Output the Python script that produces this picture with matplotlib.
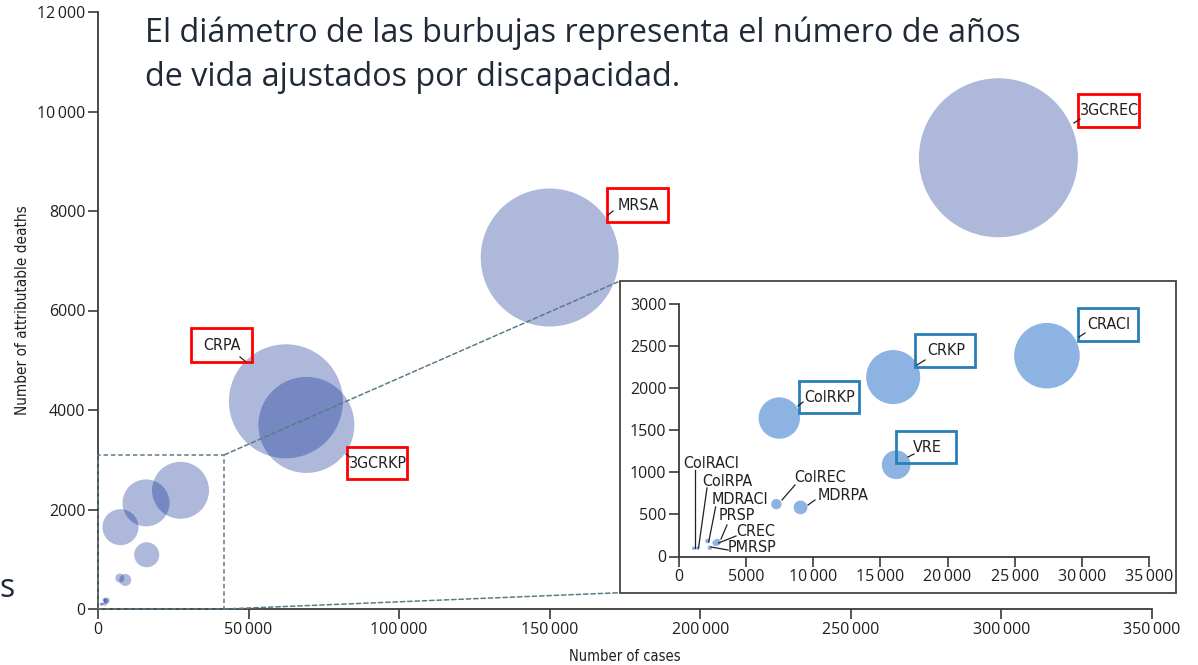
import numpy as np
import matplotlib
matplotlib.use("Agg")
import matplotlib.pyplot as plt
from matplotlib.patches import Rectangle, ConnectionPatch
from matplotlib.lines import Line2D
from matplotlib.ticker import FuncFormatter

# data
names = ["3GCREC", "MRSA", "CRPA", "3GCRKP", "CRACI", "CRKP", "VRE", "ColRKP",
         "MDRPA", "ColREC", "CREC", "PRSP", "MDRACI", "PMRSP", "ColRPA", "ColRACI"]
cases = [299000, 150000, 62400, 69200, 27400, 15950, 16170, 7470,
         9050, 7250, 2850, 2700, 2120, 2300, 1400, 1090]
deaths = [9070, 7065, 4175, 3700, 2386, 2132, 1090, 1645,
          583, 622, 170, 160, 184, 105, 98, 98]
# bubble diameter ~ DALYs (thousands, estimated)
dalys = [159, 138, 114, 96, 57, 47, 25, 36, 12, 9, 6, 5, 4, 4, 3, 3]

main_xticks = [0, 50000, 100000, 150000, 200000, 250000, 300000, 350000]
main_yticks = [0, 2000, 4000, 6000, 8000, 10000, 12000]
inset_xticks = [0, 5000, 10000, 15000, 20000, 25000, 30000, 35000]
inset_yticks = [0, 500, 1000, 1500, 2000, 2500, 3000]
zoom_box = (42000, 3100)

title_1 = "El diámetro de las burbujas representa el número de años"
title_2 = "de vida ajustados por discapacidad."

W, H = 1198, 665
def fx(x): return x / W
def fy(y): return 1 - y / H

TXT = "#231f20"
AX = "#3a3a3a"
LAB = dict(family="DejaVu Sans", fontstretch="condensed")
TICK = ["Open Sans", "DejaVu Sans"]

def fmt(v, pos):
    v = int(round(v))
    if v >= 10000:
        return f"{v:,}".replace(",", "\u2009")
    return str(v)

def style_axes(a, xt, yt):
    for s in ["top", "right"]:
        a.spines[s].set_visible(False)
    for s in ["left", "bottom"]:
        a.spines[s].set_color(AX)
        a.spines[s].set_linewidth(1.3)
    a.set_xticks(xt)
    a.set_yticks(yt)
    a.xaxis.set_major_formatter(FuncFormatter(fmt))
    a.yaxis.set_major_formatter(FuncFormatter(fmt))
    a.tick_params(direction="out", length=7, width=1.2, color=AX,
                  labelsize=11.5, labelcolor=TXT, pad=2)
    for lab in a.get_xticklabels() + a.get_yticklabels():
        lab.set_family(TICK)

fig = plt.figure(figsize=(W / 100, H / 100), dpi=100)

# main chart
ax = fig.add_axes([fx(98), fy(609), (1152 - 98) / W, (609 - 12) / H])
ax.set_xlim(0, 350000)
ax.set_ylim(0, 12000)
style_axes(ax, main_xticks, main_yticks)
d = np.array(dalys, dtype=float)
ax.scatter(cases, deaths, s=(d * 0.72) ** 2, color=(7 / 255, 40 / 255, 146 / 255),
           alpha=0.33, linewidths=0, zorder=2, clip_on=False)
ax.set_xlabel("Number of cases", fontsize=10.5, color=TXT, labelpad=8, **LAB)
ax.set_ylabel("Number of attributable deaths", fontsize=11, color=TXT, labelpad=5, **LAB)

dash = (0, (2.9, 1.9))
dcol = "#5c7a87"
ax.add_patch(Rectangle((0, 0), zoom_box[0], zoom_box[1], fill=False, ec=dcol,
                       lw=1.1, ls=dash, zorder=3, clip_on=False))

# inset frame and axes
fig.add_artist(Rectangle((fx(620), fy(592.7)), (1176 - 620) / W, (592.7 - 281) / H,
                         transform=fig.transFigure, fc="white", ec="#444444", lw=1.3, zorder=2))
for corner, target in [((zoom_box[0], zoom_box[1]), (fx(620), fy(281))),
                       ((zoom_box[0], 0), (fx(620), fy(592.7)))]:
    con = ConnectionPatch(xyA=corner, coordsA=ax.transData, xyB=target,
                          coordsB=fig.transFigure, color=dcol, lw=1.1, ls=dash)
    con.set_zorder(1.5)
    fig.add_artist(con)

ins = fig.add_axes([fx(679), fy(556.5), (1149 - 679) / W, (556.5 - 304) / H])
ins.set_zorder(3)
ins.patch.set_alpha(0)
ins.set_xlim(0, 35000)
ins.set_ylim(0, 3000)
style_axes(ins, inset_xticks, inset_yticks)
sel = [i for i, c in enumerate(cases) if c < 35000]
ins.scatter([cases[i] for i in sel], [deaths[i] for i in sel],
            s=(d[sel] * 1.15 * 0.72) ** 2, color="#8db3e2", linewidths=0,
            zorder=2, clip_on=False)

# title text
TF = ["Open Sans", "DejaVu Sans"]
fig.text(fx(145), fy(42), title_1, family=TF, fontsize=23.3, color="#1f2937", va="baseline")
fig.text(fx(145), fy(86), title_2, family=TF, fontsize=23.3, color="#1f2937", va="baseline")
fig.text(fx(-1), fy(597), "s", family=TF, fontsize=23, color="#1f2937", va="baseline")

# boxed labels: name -> (box x0, y0, x1, y1, leader)
boxed = {
    "3GCREC": ((1078, 94, 1139, 127), (1074, 123, 1080, 119), "#ff0000"),
    "MRSA": ((607, 188, 668, 222), (608, 215, 613, 211), "#ff0000"),
    "CRPA": ((191, 328, 252, 362), (240, 357, 245, 361), "#ff0000"),
    "3GCRKP": ((347, 447, 407, 479), (346, 454, 350, 457), "#ff0000"),
    "CRACI": ((1078, 308, 1138, 341), (1079, 337, 1085, 333), "#2a7fb8"),
    "CRKP": ((915, 334, 975, 367), (917, 365, 925, 360), "#2a7fb8"),
    "ColRKP": ((799, 381, 859, 413), (798, 406, 803, 402), "#2a7fb8"),
    "VRE": ((896, 431, 956, 463), (908, 457, 914, 454), "#2a7fb8"),
}
for name, (box, lead, ec) in boxed.items():
    x0, y0, x1, y1 = box
    fig.add_artist(Rectangle((fx(x0), fy(y1)), (x1 - x0) / W, (y1 - y0) / H,
                             transform=fig.transFigure, fc="none", ec=ec, lw=2, zorder=5))
    fig.text(fx((x0 + x1) / 2 + 1), fy((y0 + y1) / 2), name, fontsize=11.5,
             color=TXT, ha="center", va="center", zorder=6, **LAB)
    fig.add_artist(Line2D([fx(lead[0]), fx(lead[2])], [fy(lead[1]), fy(lead[3])],
                          transform=fig.transFigure, color=TXT, lw=0.9, zorder=5))

# plain labels in the inset: name -> (text x, y, leader)
plain = {
    "ColRACI": (683, 463, (695, 470, 695, 548)),
    "ColRPA": (702, 482, (707, 488, 698.5, 548)),
    "MDRACI": (712, 499, (715.6, 507, 708.7, 542)),
    "PRSP": (719, 516, (727, 525, 721, 539)),
    "CREC": (736, 532, (736, 536, 718.5, 543)),
    "PMRSP": (728, 548, (728, 550, 711, 547)),
    "ColREC": (794, 478, (795, 485, 782, 500)),
    "MDRPA": (818, 495, (815, 500, 808, 505)),
}
for name, (tx, ty, lead) in plain.items():
    fig.text(fx(tx), fy(ty), name, fontsize=11.5, color=TXT,
             ha="left", va="center", zorder=6, **LAB)
    fig.add_artist(Line2D([fx(lead[0]), fx(lead[2])], [fy(lead[1]), fy(lead[3])],
                          transform=fig.transFigure, color=TXT, lw=0.9, zorder=5))

fig.savefig("out.png", dpi=100)
